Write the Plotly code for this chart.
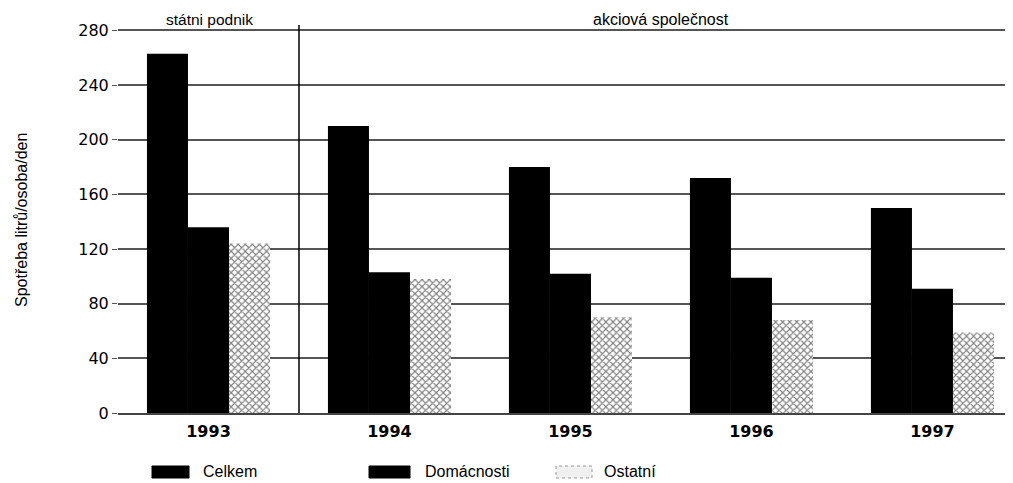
import plotly.graph_objects as go

years = ["1993", "1994", "1995", "1996", "1997"]
celkem = [263, 210, 180, 172, 150]
domacnosti = [136, 103, 102, 99, 91]
ostatni = [124, 98, 70, 68, 59]
y_ticks = [0, 40, 80, 120, 160, 200, 240, 280]
series_names = ["Celkem", "Domácnosti", "Ostatní"]

FONT = "Liberation Sans, Arial, sans-serif"

# page body has an 8px margin; figure coordinates are screen - 8
W, H = 1005, 475
L, T, B = 110, 17, 70
PW = W - L            # plot width in px
PH = H - T - B        # plot height in px

fig = go.Figure()
fig.add_bar(x=years, y=celkem, name=series_names[0], marker=dict(color="#000000", line=dict(width=0)))
fig.add_bar(x=years, y=domacnosti, name=series_names[1], marker=dict(color="#000000", line=dict(width=0)))
fig.add_bar(x=years, y=ostatni, name=series_names[2],
            marker=dict(color="#ffffff", line=dict(width=0),
                        pattern=dict(shape="x", fgcolor="#000000", bgcolor="#ffffff",
                                     size=5, solidity=0.4, fillmode="overlay")))

fig.update_layout(
    width=W, height=H,
    margin=dict(l=L, r=0, t=T, b=B),
    paper_bgcolor="white", plot_bgcolor="white",
    barmode="group", bargap=0.32, bargroupgap=0,
    showlegend=False,
    font=dict(family=FONT, color="#000000"),
)
fig.update_xaxes(
    type="category", range=[-0.5, 4.445],
    showline=True, linecolor="#444444", linewidth=2,
    showgrid=False, ticks="",
    tickfont=dict(size=16, family="DejaVu Sans", color="#000000", weight="bold"),
    ticklabelstandoff=3,
)
fig.update_yaxes(
    range=[0, 284], tickvals=y_ticks,
    showgrid=True, gridcolor="#555555", gridwidth=1.5,
    zeroline=False, showline=False,
    ticks="outside", ticklen=5, tickcolor="#555555",
    tickfont=dict(size=16, family="DejaVu Sans", color="#000000"),
)

def px_x(sx):
    return (sx - 8 - L) / PW

def px_y(sy):
    return (H - B - (sy - 8)) / PH

# separator between "státni podnik" and "akciová společnost"
fig.add_shape(type="line", xref="x", yref="paper", x0=0.5, x1=0.5, y0=0, y1=1,
              line=dict(color="#000000", width=1.5))

fig.add_annotation(text="státni podnik", xref="paper", yref="paper", x=px_x(209), y=px_y(19),
                   xanchor="center", yanchor="middle", showarrow=False, font=dict(size=15.5))
fig.add_annotation(text="akciová společnost", xref="paper", yref="paper", x=px_x(661), y=px_y(19),
                   xanchor="center", yanchor="middle", showarrow=False, font=dict(size=16))
fig.add_annotation(text="Spotřeba litrů/osoba/den", xref="paper", yref="paper", x=px_x(21), y=px_y(220),
                   textangle=-90, xanchor="center", yanchor="middle", showarrow=False, font=dict(size=16))

# custom legend
leg_y = 472
legend_items = [(152, 189, 201, "#000000", "#000000", "solid"),
                (369, 410, 423, "#000000", "#000000", "solid"),
                (556, 592, 602, "#f0f0f0", "#999999", "dot")]
for (x0, x1, tx, fill, lc, dash), name in zip(legend_items, series_names):
    fig.add_shape(type="rect", xref="paper", yref="paper",
                  x0=px_x(x0), x1=px_x(x1), y0=px_y(leg_y + 6), y1=px_y(leg_y - 6),
                  fillcolor=fill, line=dict(color=lc, width=1, dash=dash))
    fig.add_annotation(text=name, xref="paper", yref="paper", x=px_x(tx), y=px_y(leg_y),
                       xanchor="left", yanchor="middle", showarrow=False, font=dict(size=16))

fig.write_html("out.html")
